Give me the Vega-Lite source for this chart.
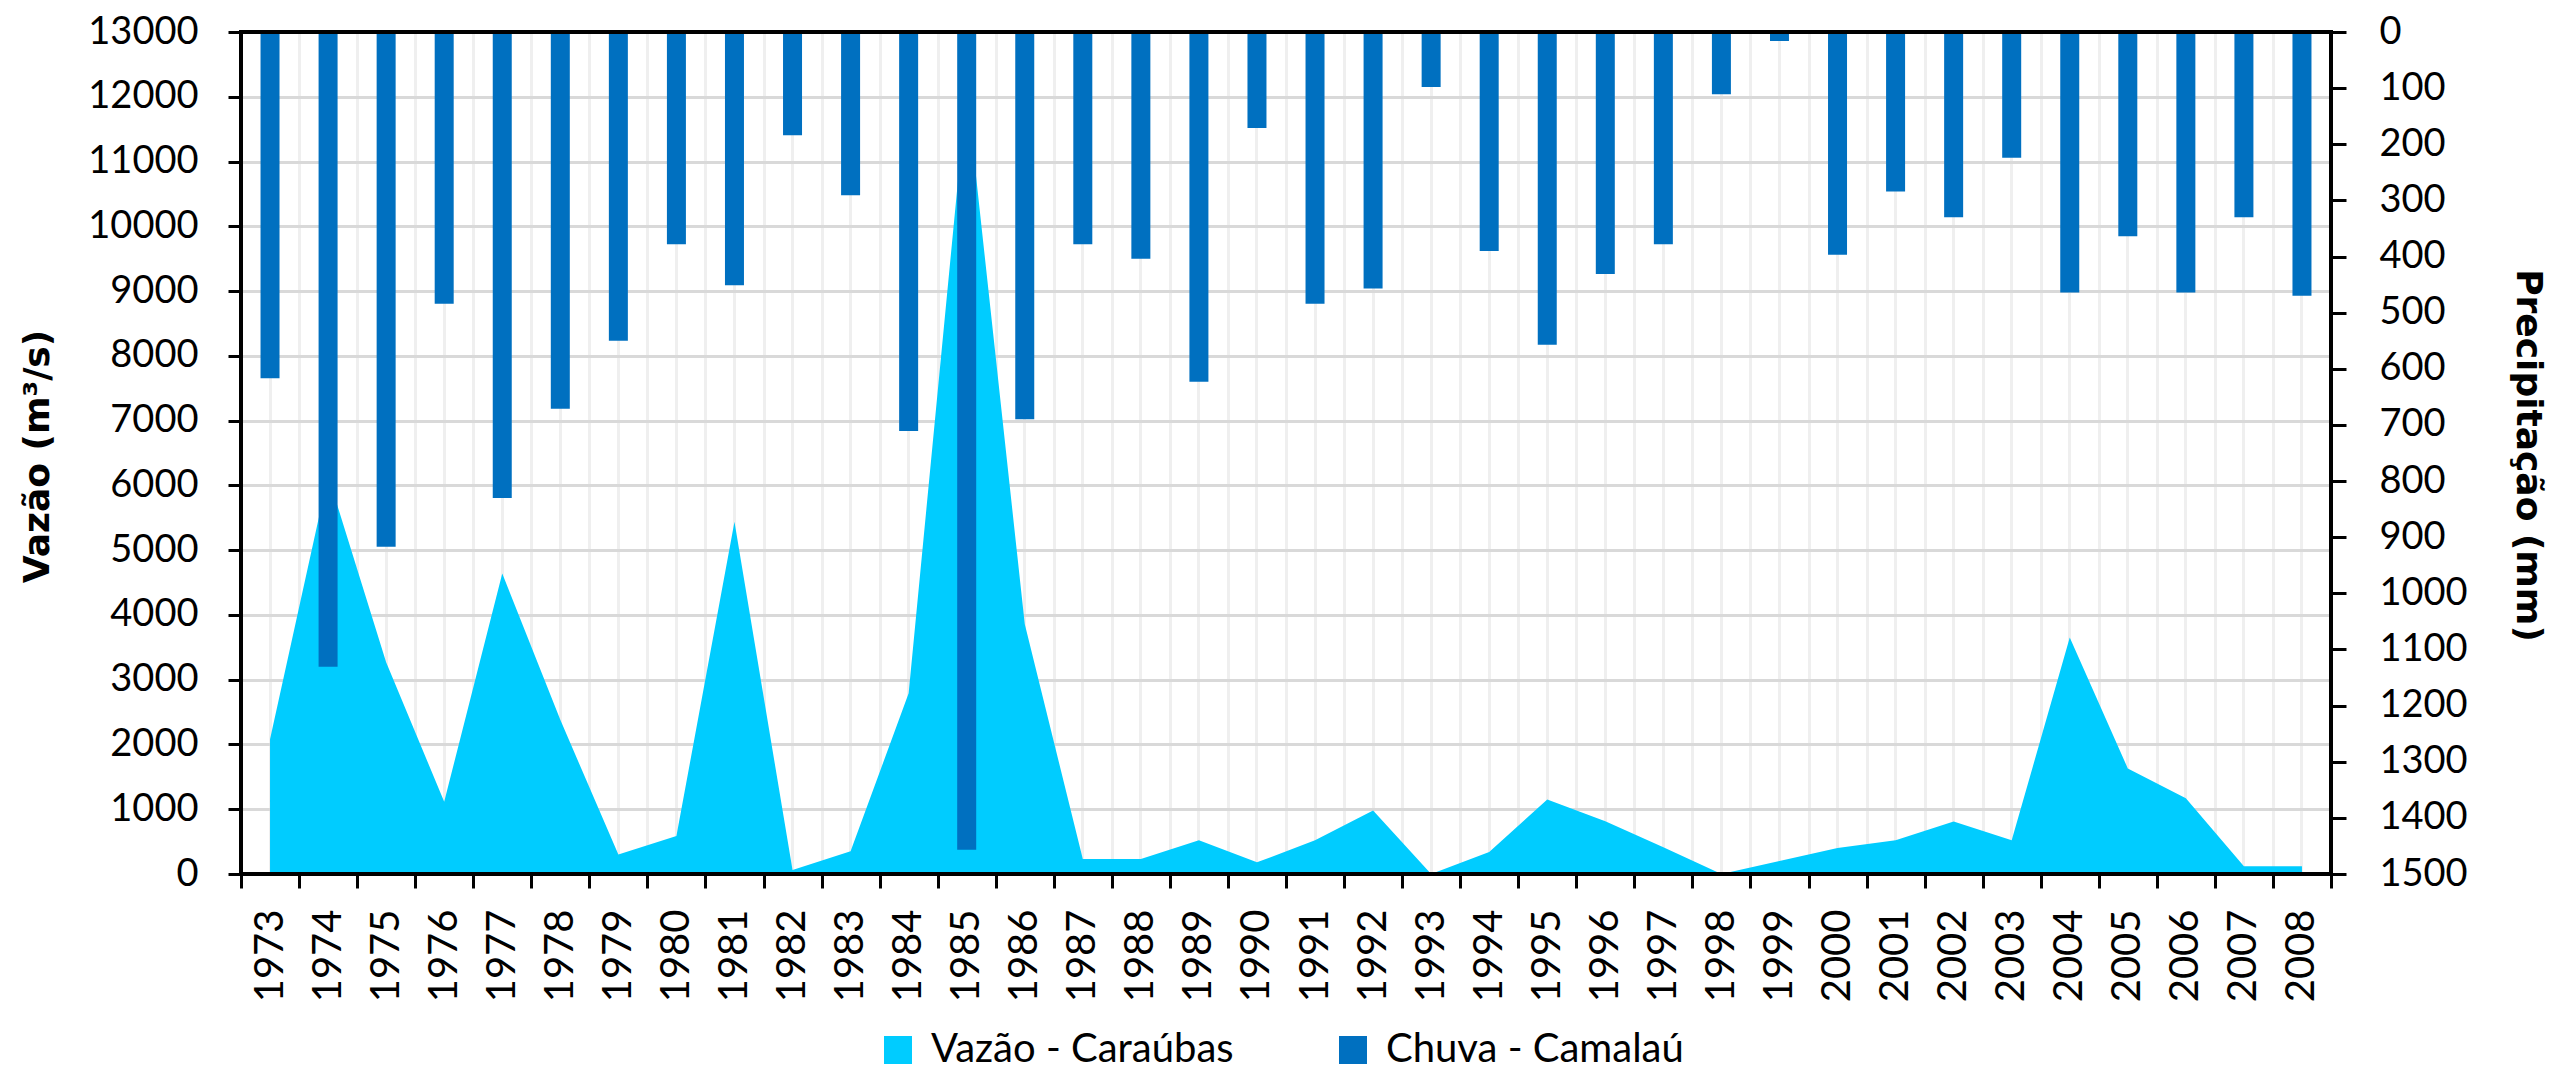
{
  "$schema": "https://vega.github.io/schema/vega-lite/v6.json",
  "width": 2090,
  "height": 842,
  "autosize": {"type": "none"},
  "padding": {"left": 241, "top": 32, "right": 229, "bottom": 198},
  "background": "white",
  "config": {
    "view": {"stroke": "black", "strokeWidth": 4},
    "style": {"cell": {"strokeForeground": true}},
    "font": "Lato"
  },
  "data": {
    "values": [
      {"ano": "1973", "vazao": 2080, "chuva": 617},
      {"ano": "1974", "vazao": 6150, "chuva": 1131},
      {"ano": "1975", "vazao": 3270, "chuva": 917},
      {"ano": "1976", "vazao": 1115, "chuva": 484},
      {"ano": "1977", "vazao": 4640, "chuva": 830},
      {"ano": "1978", "vazao": 2380, "chuva": 671},
      {"ano": "1979", "vazao": 300, "chuva": 550},
      {"ano": "1980", "vazao": 585, "chuva": 378},
      {"ano": "1981", "vazao": 5440, "chuva": 451},
      {"ano": "1982", "vazao": 60, "chuva": 184},
      {"ano": "1983", "vazao": 350, "chuva": 291},
      {"ano": "1984", "vazao": 2790, "chuva": 711},
      {"ano": "1985", "vazao": 12100, "chuva": 1457},
      {"ano": "1986", "vazao": 3860, "chuva": 690},
      {"ano": "1987", "vazao": 230, "chuva": 378},
      {"ano": "1988", "vazao": 230, "chuva": 404},
      {"ano": "1989", "vazao": 520, "chuva": 623},
      {"ano": "1990", "vazao": 180, "chuva": 171},
      {"ano": "1991", "vazao": 520, "chuva": 484},
      {"ano": "1992", "vazao": 980, "chuva": 457},
      {"ano": "1993", "vazao": 0, "chuva": 98},
      {"ano": "1994", "vazao": 340, "chuva": 390},
      {"ano": "1995", "vazao": 1150, "chuva": 557},
      {"ano": "1996", "vazao": 816, "chuva": 431},
      {"ano": "1997", "vazao": 413, "chuva": 378},
      {"ano": "1998", "vazao": 0, "chuva": 111},
      {"ano": "1999", "vazao": 200, "chuva": 16},
      {"ano": "2000", "vazao": 400, "chuva": 397},
      {"ano": "2001", "vazao": 520, "chuva": 284},
      {"ano": "2002", "vazao": 810, "chuva": 330},
      {"ano": "2003", "vazao": 520, "chuva": 224},
      {"ano": "2004", "vazao": 3650, "chuva": 464},
      {"ano": "2005", "vazao": 1630, "chuva": 364},
      {"ano": "2006", "vazao": 1170, "chuva": 464},
      {"ano": "2007", "vazao": 120, "chuva": 330},
      {"ano": "2008", "vazao": 120, "chuva": 470}
    ]
  },
  "layer": [
    {
      "mark": {"type": "area", "interpolate": "linear", "opacity": 1},
      "encoding": {
        "x": {
          "field": "ano", "type": "ordinal", "bandPosition": 0.5,
          "scale": {"type": "band", "paddingInner": 0, "paddingOuter": 0},
          "axis": {
            "orient": "bottom", "title": null, "labelAngle": 270,
            "labelFont": "Lato", "labelFontSize": 40, "labelColor": "black",
            "labelPadding": 21, "labelAlign": "right", "labelBaseline": "middle",
            "tickBand": "extent", "ticks": true, "tickSize": 14, "tickColor": "black", "tickWidth": 3,
            "domain": false,
            "grid": true, "gridColor": "#EFEFEF", "gridWidth": 3, "zindex": 0
          }
        },
        "y": {
          "field": "vazao", "type": "quantitative",
          "scale": {"domain": [0, 13000], "nice": false},
          "axis": {
            "orient": "left",
            "values": [0, 1000, 2000, 3000, 4000, 5000, 6000, 7000, 8000, 9000, 10000, 11000, 12000, 13000],
            "format": "d",
            "title": "Vazão  (m³/s)", "titleFont": "DejaVu Sans", "titleFontWeight": "bold",
            "titleFontSize": 36, "titleColor": "black", "titleAngle": 270,
            "titleX": -204, "titleY": 424, "titleAlign": "center", "titleBaseline": "middle",
            "labelFont": "Lato", "labelFontSize": 38, "labelColor": "black", "labelPadding": 30,
            "tickSize": 13, "tickColor": "black", "tickWidth": 3,
            "domain": false,
            "grid": true, "gridColor": "#D9D9D9", "gridWidth": 3, "zindex": 0
          }
        },
        "color": {
          "datum": "Vazão - Caraúbas", "type": "nominal",
          "scale": {"domain": ["Vazão - Caraúbas", "Chuva - Camalaú"], "range": ["#00CCFF", "#0070C0"]},
          "legend": {
            "orient": "none", "legendX": 637, "legendY": 998, "direction": "horizontal",
            "title": null, "symbolType": "square", "symbolSize": 784, "symbolStrokeWidth": 0,
            "symbolOpacity": 1, "labelFont": "Lato", "labelFontSize": 40, "labelColor": "black",
            "labelOffset": 13, "columnPadding": 99, "padding": 0, "labelLimit": 600
          }
        }
      }
    },
    {
      "mark": {"type": "bar", "size": 19},
      "encoding": {
        "x": {
          "field": "ano", "type": "ordinal",
          "scale": {"type": "band", "paddingInner": 0, "paddingOuter": 0},
          "axis": {
            "orient": "top", "title": null, "labels": false, "ticks": false,
            "domain": false,
            "grid": true, "tickBand": "center", "gridColor": "#EFEFEF", "gridWidth": 3, "zindex": 0
          }
        },
        "y": {
          "field": "chuva", "type": "quantitative",
          "scale": {"domain": [0, 1500], "reverse": true, "nice": false},
          "axis": {
            "orient": "right",
            "values": [0, 100, 200, 300, 400, 500, 600, 700, 800, 900, 1000, 1100, 1200, 1300, 1400, 1500],
            "format": "d",
            "title": "Precipitação (mm)", "titleFont": "DejaVu Sans", "titleFontWeight": "bold",
            "titleFontSize": 36, "titleColor": "black", "titleAngle": 90,
            "titleX": 196, "titleY": 423, "titleAlign": "center", "titleBaseline": "middle",
            "labelFont": "Lato", "labelFontSize": 38, "labelColor": "black", "labelPadding": 33,
            "tickSize": 15, "tickColor": "black", "tickWidth": 3,
            "domain": false,
            "grid": false, "zindex": 0
          }
        },
        "color": {"datum": "Chuva - Camalaú", "type": "nominal"}
      }
    }
  ],
  "resolve": {"scale": {"y": "independent"}, "axis": {"x": "independent", "y": "independent"}}
}
